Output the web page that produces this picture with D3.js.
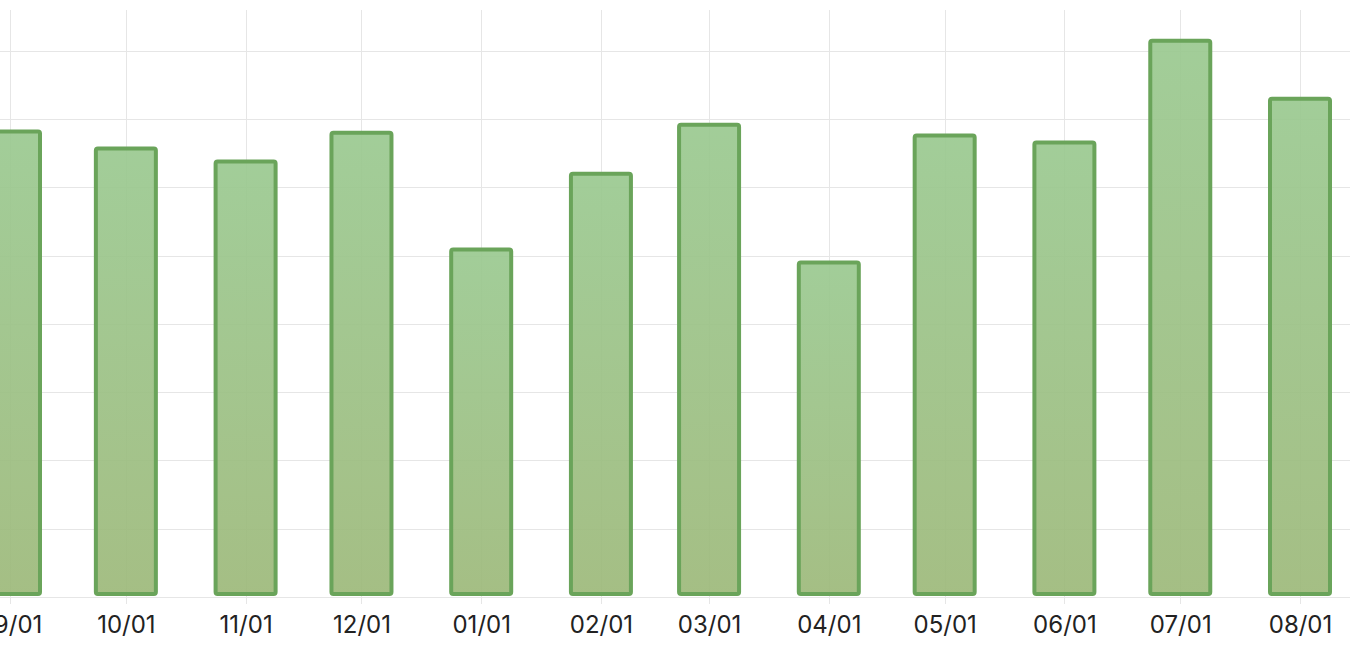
<!DOCTYPE html>
<html>
<head>
<meta charset="utf-8">
<script src="https://cdn.jsdelivr.net/npm/d3@7"></script>
<style>
html,body{margin:0;padding:0;background:#fff;overflow:hidden;}
svg{display:block;}
</style>
</head>
<body>
<svg id="chart" width="1350" height="648"></svg>
<script>
const dates = ["2022-09-01","2022-10-01","2022-11-01","2022-12-01","2023-01-01","2023-02-01","2023-03-01","2023-04-01","2023-05-01","2023-06-01","2023-07-01","2023-08-01"];
const values = [68.2, 65.7, 63.8, 68.0, 50.9, 62.0, 69.2, 49.0, 67.6, 66.6, 81.5, 73.0];
const yTicks = [0, 10, 20, 30, 40, 50, 60, 70, 80];
const tickFormat = "%m/%d";

const W = 1350, H = 648;
const svg = d3.select("#chart");
const parse = d3.utcParse("%Y-%m-%d");
const data = dates.map((d, i) => ({ date: parse(d), value: values[i] }));

const x = d3.scaleUtc()
  .domain([parse(dates[0]), parse(dates[dates.length - 1])])
  .range([10, 1300]);
const y = d3.scaleLinear().domain([0, 86]).range([597, 10]);

const defs = svg.append("defs");
const grad = defs.append("linearGradient").attr("id", "barGrad")
  .attr("x1", 0).attr("y1", 0).attr("x2", 0).attr("y2", 1);
grad.append("stop").attr("offset", "0%").attr("stop-color", "rgb(154,201,144)");
grad.append("stop").attr("offset", "100%").attr("stop-color", "rgb(157,185,122)");

// horizontal grid
svg.append("g")
  .call(d3.axisLeft(y).tickValues(yTicks).tickSize(-W).tickFormat(""))
  .call(g => g.select(".domain").remove())
  .call(g => g.selectAll("line").attr("stroke", "#e6e6e6").attr("stroke-width", 1).attr("shape-rendering", "crispEdges"));

// vertical grid + x axis
svg.append("g")
  .attr("transform", `translate(0,${y(0)})`)
  .call(d3.axisBottom(x).tickValues(data.map(d => d.date)).tickFormat(d3.utcFormat(tickFormat)).tickSize(7).tickPadding(12))
  .call(g => g.select(".domain").remove())
  .call(g => g.selectAll(".tick line").attr("y1", y(86) - y(0)).attr("y2", 7)
    .attr("stroke", "#e6e6e6").attr("stroke-width", 1).attr("shape-rendering", "crispEdges"))
  .call(g => g.selectAll(".tick text").attr("fill", "#222")
    .attr("font-family", "Inter, 'Noto Sans', sans-serif").attr("font-size", 24));

// bars
const barW = 60;
svg.append("g").selectAll("rect").data(data).join("rect")
  .attr("x", d => x(d.date) - barW / 2)
  .attr("y", d => y(d.value))
  .attr("width", barW)
  .attr("height", d => y(0) - 3 - y(d.value))
  .attr("rx", 2)
  .attr("fill", "url(#barGrad)")
  .attr("fill-opacity", 0.92)
  .attr("stroke", "rgb(106,164,90)")
  .attr("stroke-width", 4);
</script>
</body>
</html>
